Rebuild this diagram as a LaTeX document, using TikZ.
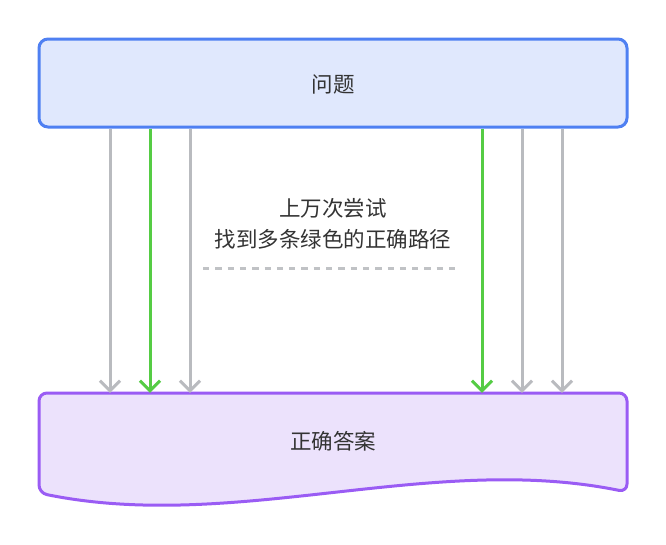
\documentclass[tikz,border=0pt]{standalone}
\usepackage{fontspec}
\setmainfont{Noto Sans CJK SC}
\usetikzlibrary{arrows.meta}
\definecolor{qborder}{HTML}{4F80F2}
\definecolor{qfill}{HTML}{E0E8FD}
\definecolor{aborder}{HTML}{9A5CF4}
\definecolor{afill}{HTML}{ECE2FC}
\definecolor{okgreen}{HTML}{55CC44}
\definecolor{trygray}{HTML}{B9BBBF}
\definecolor{dashgray}{HTML}{C0C2C5}
\definecolor{txt}{HTML}{333333}
\tikzset{
  lbl/.style={text=txt, font=\fontsize{21.5}{31}\selectfont, align=center, inner sep=0},
  tryarrow/.style={draw=trygray, line width=3pt, -{Straight Barb[length=10pt,width=20pt]}},
  goodarrow/.style={tryarrow, draw=okgreen},
}
\begin{document}
\begin{tikzpicture}[x=1pt,y=-1pt]
\useasboundingbox (0,0) rectangle (666,544);
% top box
\node[draw=qborder, fill=qfill, line width=3pt, rounded corners=9pt,
      minimum width=588pt, minimum height=88pt, inner sep=0] (q) at (333,83) {};
\node[lbl] (qt) at (333,84) {问题};
% bottom box (wavy document shape)
\node[minimum width=588pt, minimum height=100pt, inner sep=0] (abox) at (333,443) {};
\draw[draw=aborder, fill=afill, line width=3pt, line join=round, rounded corners=8pt]
  (627,492) .. controls (431,452) and (235,533) .. (39,493)
  -- (39,393) -- (627,393) -- cycle;
\node[lbl] (at) at (333,441) {正确答案};
% arrows
\draw[tryarrow]  (q.south -| 110,0) -- (abox.north -| 110,0);
\draw[goodarrow] (q.south -| 150,0) -- (abox.north -| 150,0);
\draw[tryarrow]  (q.south -| 190,0) -- (abox.north -| 190,0);
\draw[goodarrow] (q.south -| 482,0) -- (abox.north -| 482,0);
\draw[tryarrow]  (q.south -| 522,0) -- (abox.north -| 522,0);
\draw[tryarrow]  (q.south -| 562,0) -- (abox.north -| 562,0);
% middle text
\node[lbl] (mid) at (333,224) {上万次尝试\\找到多条绿色的正确路径};
\coordinate (d1) at (203,268);
\coordinate (d2) at (457,268);
\draw[dashgray, line width=3pt, dash pattern=on 6.3pt off 6pt] (d1) -- (d2);
\end{tikzpicture}
\end{document}
